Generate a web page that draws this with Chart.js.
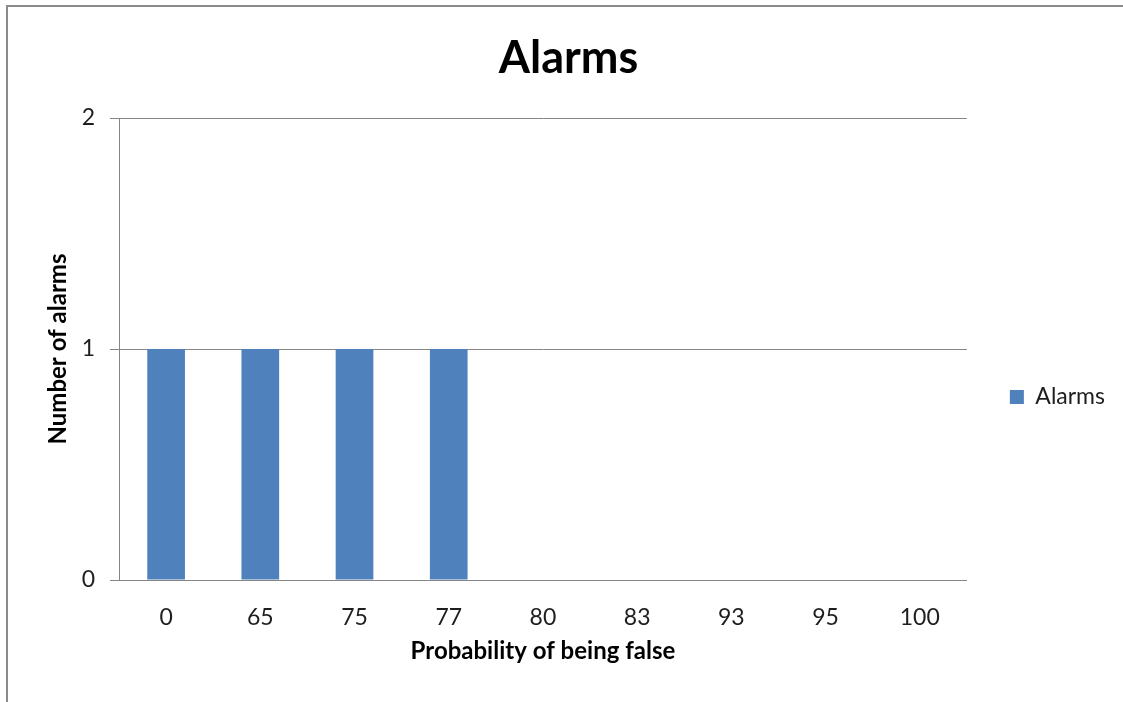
<!DOCTYPE html>
<html>
<head>
<meta charset="utf-8">
<script src="https://cdn.jsdelivr.net/npm/chart.js@4.4.1/dist/chart.umd.min.js"></script>
<style>
  html, body { margin: 0; padding: 0; background: #fff; overflow: hidden; }
  #wrap { position: relative; width: 1123px; height: 702px; }
  #frame {
    position: absolute; left: 6px; top: 5px; width: 2000px; height: 2000px;
    border-left: 2px solid #8a8a8a; border-top: 2px solid #8a8a8a;
  }
  #myChart { position: absolute; left: 0; top: 0; }
</style>
</head>
<body>
<div id="wrap">
  <div id="frame"></div>
  <canvas id="myChart" width="1123" height="702"></canvas>
</div>
<script>
const categories = ['0', '65', '75', '77', '80', '83', '93', '95', '100'];
const alarmCounts = [1, 1, 1, 1, 0, 0, 0, 0, 0];
const yTicks = [0, 1, 2];

const gridGray = '#868686';
const textColor = '#1e1e1e';
const fontFamily = 'Lato, "Open Sans", sans-serif';

// nudge legend down and title right, like the Excel original
const nudgeBoxes = {
  id: 'nudgeBoxes',
  afterLayout(chart) {
    const lg = chart.legend;
    if (lg) {
      lg.top += 64;
      lg.bottom += 64;
    }
    const tb = chart.titleBlock;
    if (tb) {
      tb.left += 11;
      tb.right += 11;
    }
  }
};

new Chart(document.getElementById('myChart').getContext('2d'), {
  type: 'bar',
  data: {
    labels: categories,
    datasets: [{
      label: 'Alarms',
      data: alarmCounts,
      backgroundColor: '#4f81bd',
      borderWidth: 0,
      categoryPercentage: 1,
      barPercentage: 0.4
    }]
  },
  options: {
    responsive: false,
    animation: false,
    layout: { padding: { left: 0, right: 8, top: 0, bottom: 36 } },
    plugins: {
      title: {
        display: true,
        text: 'Alarms',
        color: '#000',
        font: { family: fontFamily, size: 45, weight: 'bold' },
        padding: { top: 31, bottom: 33 }
      },
      legend: {
        display: true,
        position: 'right',
        align: 'center',
        labels: {
          boxWidth: 14,
          boxHeight: 14,
          padding: 43,
          color: textColor,
          font: { family: fontFamily, size: 23 }
        }
      },
      tooltip: { enabled: false }
    },
    scales: {
      x: {
        afterFit(scale) { scale.height = 86; },
        grid: { display: false },
        border: { display: true, color: gridGray, width: 1 },
        ticks: {
          color: textColor,
          padding: 16,
          font: { family: fontFamily, size: 23 },
          maxRotation: 0
        },
        title: {
          display: true,
          text: 'Probability of being false',
          color: '#000',
          font: { family: fontFamily, size: 24, weight: 'bold' },
          padding: { top: 0, bottom: 0 }
        }
      },
      y: {
        min: 0,
        max: 2,
        afterFit(scale) { scale.width = 119; },
        afterBuildTicks(scale) { scale.ticks = yTicks.map(v => ({ value: v })); },
        grid: {
          color: gridGray,
          lineWidth: 1,
          drawTicks: true,
          tickLength: 9,
          tickColor: gridGray
        },
        border: { display: true, color: gridGray, width: 1 },
        ticks: {
          color: textColor,
          padding: 15,
          font: { family: fontFamily, size: 23 }
        },
        title: {
          display: true,
          text: 'Number of alarms',
          color: '#000',
          font: { family: fontFamily, size: 24, weight: 'bold' },
          padding: { top: 44, bottom: 0 }
        }
      }
    }
  },
  plugins: [nudgeBoxes]
});
</script>
</body>
</html>
